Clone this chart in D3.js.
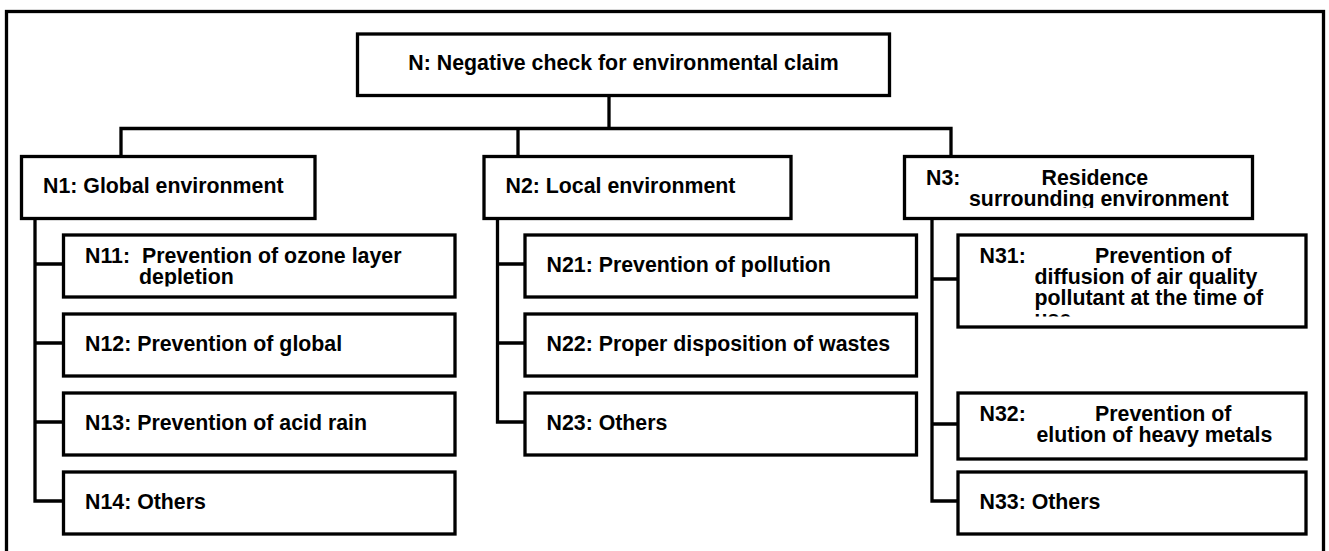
<!DOCTYPE html>
<html>
<head>
<meta charset="utf-8">
<script src="https://cdn.jsdelivr.net/npm/d3@7"></script>
<style>
    html, body { margin: 0; padding: 0; background: #fff; }
    svg text {
        font-family: "Liberation Sans", Arial, sans-serif;
        font-weight: bold;
        font-size: 21.33px;
        white-space: pre;
        fill: #000;
    }
</style>
</head>
<body>
<div id="chart"></div>
<script>
// tree content
const rootId = "N";
const rootLabel = ["N: Negative check for environmental claim"];

const groupIds = ["N1", "N2", "N3"];
const groupLabels = [
    ["N1: Global environment"],
    ["N2: Local environment"],
    ["N3:\tResidence", "surrounding environment"]
];

const childIds = [
    ["N11", "N12", "N13", "N14"],
    ["N21", "N22", "N23"],
    ["N31", "N32", "N33"]
];
const childLabels = [
    [["N11:  Prevention of ozone layer", "depletion"], ["N12: Prevention of global"], ["N13: Prevention of acid rain"], ["N14: Others"]],
    [["N21: Prevention of pollution"], ["N22: Proper disposition of wastes"], ["N23: Others"]],
    [["N31:\tPrevention of", "diffusion of air quality", "pollutant at the time of", "use"], ["N32:\tPrevention of", "elution of heavy metals"], ["N33: Others"]]
];

// geometry of the drawing, kept apart from the content
const layout = {
    width: 1329,
    height: 551,
    frame: {x: 6.5, y: 11.5, w: 1317},
    root: {x: 357.5, y: 34, w: 532, h: 61.5, stemX: 609},
    barY: 128.5,
    groupY: 156.5,
    groupH: 62,
    groups: [
        {x: 21.5, w: 293.5, stemX: 121, spineX: 35, childX: 63.5, childW: 391.5, rows: [0, 1, 2, 3]},
        {x: 484, w: 307, stemX: 518, spineX: 497.5, childX: 525, childW: 391.5, rows: [0, 1, 2]},
        {x: 904.5, w: 348, stemX: 951, spineX: 932, childX: 958, childW: 348, rows: [0, 2, 3]}
    ],
    rowRange: [235, 534],
    rowPad: 17 / 79,
    heights: {N31: 92, N32: 66},
    hang: {N3: 43, N11: 54, N31: 55, N32: 57},
    pad: 21.5,
    tabStop: 137,
    lineH: 21,
    firstBase: 28,
    clipInset: 10.5,
    stroke: 3.3
};

const svg = d3.select("#chart").append("svg")
    .attr("width", layout.width)
    .attr("height", layout.height);

const defs = svg.append("defs");

const yRow = d3.scaleBand()
    .domain(d3.range(4))
    .range(layout.rowRange)
    .paddingInner(layout.rowPad);

// outer frame (its bottom runs off the picture)
svg.append("rect")
    .attr("x", layout.frame.x)
    .attr("y", layout.frame.y)
    .attr("width", layout.frame.w)
    .attr("height", layout.height + 20)
    .attr("fill", "none")
    .attr("stroke", "#000")
    .attr("stroke-width", layout.stroke);

// collect every box
const boxes = [];
boxes.push({id: rootId, lines: rootLabel, x: layout.root.x, y: layout.root.y, w: layout.root.w, h: layout.root.h, center: true});

groupIds.forEach((gid, gi) => {
    const g = layout.groups[gi];
    boxes.push({id: gid, lines: groupLabels[gi], x: g.x, y: layout.groupY, w: g.w, h: layout.groupH});
    childIds[gi].forEach((cid, ci) => {
        const row = g.rows[ci];
        boxes.push({
            id: cid,
            group: gi,
            lines: childLabels[gi][ci],
            x: g.childX,
            y: yRow(row),
            w: g.childW,
            h: layout.heights[cid] || yRow.bandwidth()
        });
    });
});

// connectors
const links = svg.append("g").classed("links", true)
    .attr("fill", "none")
    .attr("stroke", "#000")
    .attr("stroke-width", layout.stroke)
    .attr("stroke-linecap", "square");

const stems = layout.groups.map(g => g.stemX);
links.append("path")
    .attr("d", `M${layout.root.stemX},${layout.root.y + layout.root.h}V${layout.barY}` +
        `M${d3.min(stems)},${layout.barY}H${d3.max(stems)}` +
        stems.map(x => `M${x},${layout.barY}V${layout.groupY}`).join(""));

layout.groups.forEach((g, gi) => {
    const kids = boxes.filter(b => b.group === gi);
    const ys = kids.map(b => b.y + b.h / 2 - 2);
    links.append("path")
        .attr("d", `M${g.spineX},${layout.groupY + layout.groupH}V${d3.max(ys)}` +
            ys.map(y => `M${g.spineX},${y}H${g.childX}`).join(""));
});

// boxes and their text
const nodes = svg.append("g").classed("nodes", true)
    .selectAll("g")
    .data(boxes)
    .enter()
    .append("g")
        .attr("transform", d => `translate(${d.x},${d.y})`);

nodes.each(function(d){
    defs.append("clipPath")
        .attr("id", "clip-" + d.id)
        .append("rect")
            .attr("x", d.x)
            .attr("y", d.y)
            .attr("width", d.w)
            .attr("height", d.h - layout.clipInset);
});

nodes.append("rect")
    .attr("width", d => d.w)
    .attr("height", d => d.h)
    .attr("fill", "#fff")
    .attr("stroke", "#000")
    .attr("stroke-width", layout.stroke);

nodes.each(function(d){
    const clipG = svg.append("g").attr("clip-path", `url(#clip-${d.id})`);
    d.lines.forEach((line, i) => {
        const base = d.lines.length === 1
            ? d.y + d.h / 2 + 5.5
            : d.y + layout.firstBase + i * layout.lineH;
        const parts = line.split("\t");
        parts.forEach((part, pi) => {
            const t = clipG.append("text")
                .attr("y", base)
                .text(part);
            if(d.center){
                t.attr("x", d.x + d.w / 2).attr("text-anchor", "middle");
            } else if(pi > 0){
                t.attr("x", d.x + layout.tabStop);
            } else {
                t.attr("x", d.x + layout.pad + (i > 0 ? (layout.hang[d.id] || 0) : 0));
            }
        });
    });
});
</script>
</body>
</html>
